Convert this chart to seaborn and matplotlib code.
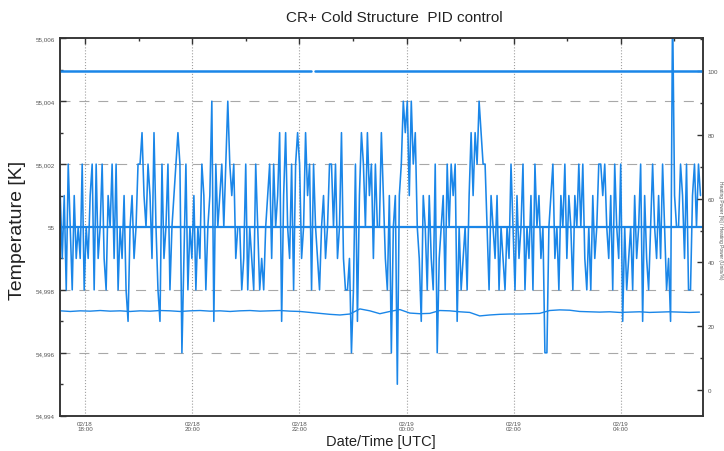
import numpy as np
import pandas as pd
import matplotlib
matplotlib.use("Agg")
import matplotlib.pyplot as plt
import matplotlib.dates as mdates
from matplotlib.ticker import MultipleLocator, FuncFormatter
import seaborn as sns

# temperature readings, offset from 55 K in mK (1 mK resolution), one sample every 134 s
temp_mk_a = [1, -1, 1, -2, 2, 0, -2, 1, -1, 0,
             -1, 2, -2, 0, -1, 1, 2, -2, 2, -1,
             0, 2, -1, -2, 1, 0, 2, -1, 2, -2,
             0, -1, 1, -2, -3, 0, 1, -1, 0, 2,
             2, 3, 1, 0, 2, 1, -1, 3, 0, -2,
             -3, 2, -1, 0, 2, -2, 0, 1, 2, 3,
             2, -4, -1, 2, -2, 0, -1, 1, -2, 0,
             -1, 2, 1, -2, 0, 1, 4, -3, 2, 0]
temp_mk_b = [1, 2, 0, 2, 4, 2, 1, 2, -1, 0,
             0, -2, -1, 2, -2, 0, -1, -2, 2, 0,
             -2, -1, -2, 0, 1, 2, -1, 2, 0, 1,
             3, -3, 1, 3, 0, -1, 2, -2, 2, 3,
             2, -1, 0, 3, 1, 2, -2, 2, 0, -1,
             -2, 0, 1, -1, 0, 2, 2, 0, 2, -1,
             0, 3, -1, -2, -2, -1, -4, -2, 2, -3,
             1, 3, 2, 0, 3, 1, 2, -1, 2, 0]
temp_mk_c = [0, 3, 1, -1, -2, 1, -4, 0, 1, -5,
             1, 2, 4, 3, 4, 1, 4, 2, 3, 0,
             -1, -3, 1, 0, -2, 1, -1, -2, 2, -4,
             -1, 0, 1, -2, 2, 0, 2, 1, 2, -3,
             0, -2, -1, 0, -2, 1, 3, 1, 3, 2,
             4, 3, 2, 2, 0, -2, 1, 0, -1, 1,
             -2, 0, -1, -2, 0, -1, 2, 0, -2, 1,
             -1, 0, 2, -2, 0, -1, 1, -2, 2, 0]
temp_mk_d = [1, -1, 0, -4, -4, 0, 1, 2, -1, 0,
             -2, 1, 0, 2, -1, 1, 0, -2, 1, 0,
             2, 0, 2, -1, -2, 0, -2, 1, -1, 0,
             2, 2, 1, 2, 0, -1, 1, -2, 2, 0,
             -1, 2, -3, 0, -2, -1, 0, -2, 1, -1,
             0, 2, -3, 1, -1, -2, 0, 2, 0, -1,
             1, -1, 2, 0, -2, -1, -3, 7, 1, 0,
             0, 2, 1, -1, 2, -2, -2, 1, 2, 0,
             2, 1]

# heating power [%], one sample every 671 s
power_pct = [24.8, 24.6, 24.8, 24.7, 24.9, 24.7, 24.8, 24.6, 24.8, 24.7,
             24.9, 24.8, 24.6, 24.8, 24.9, 24.7, 24.8, 24.6, 24.8, 24.9,
             24.7, 24.8, 24.9, 24.7, 24.6, 24.3, 24.0, 23.7, 23.5, 23.8,
             25.4, 24.8, 23.9, 24.6, 25.2, 24.1, 23.9, 24.0, 24.9, 24.8,
             24.5, 24.3, 23.2, 23.5, 23.7, 23.8, 23.8, 23.9, 24.0, 24.9,
             25.1, 25.0, 24.6, 24.5, 24.4, 24.5, 24.3, 24.4, 24.5, 24.3,
             24.4, 24.5, 24.4, 24.3, 24.4]

# power limit (with a short data gap) and temperature setpoint
limit_times = ["2023-02-18 17:32", "2023-02-18 22:13", "2023-02-18 22:17", "2023-02-19 05:32"]
limit_vals = [100, 100, 100, 100]
limit_seg = [0, 0, 1, 1]
setpoint_times = ["2023-02-18 17:32", "2023-02-19 05:32"]
setpoint_vals = [55.0, 55.0]

start = pd.Timestamp("2023-02-18 17:32:17")
temp_mk = temp_mk_a + temp_mk_b + temp_mk_c + temp_mk_d
temp = pd.DataFrame({
    "time": pd.date_range(start, periods=len(temp_mk), freq="134s"),
    "T": 55.0 + np.array(temp_mk) / 1000.0,
})
power = pd.DataFrame({
    "time": pd.date_range(start, periods=len(power_pct), freq="671s"),
    "P": power_pct,
})
limit = pd.DataFrame({"time": pd.to_datetime(limit_times), "P": limit_vals, "seg": limit_seg})
setp = pd.DataFrame({"time": pd.to_datetime(setpoint_times), "T": setpoint_vals})

sns.set_style("white")
plt.rcParams["font.family"] = ["Liberation Sans", "DejaVu Sans"]

blue = "#1a86e8"
grey = "#555555"

fig = plt.figure(figsize=(7.24, 4.52), dpi=100)
ax = fig.add_axes([60 / 724, 1 - 416.7 / 452, 643 / 724, 377.4 / 452])
ax2 = ax.twinx()

sns.lineplot(data=temp, x="time", y="T", ax=ax, color=blue, lw=1.15, estimator=None)
sns.lineplot(data=setp, x="time", y="T", ax=ax, color=blue, lw=1.6, estimator=None)
sns.lineplot(data=power, x="time", y="P", ax=ax2, color=blue, lw=1.0, estimator=None)
sns.lineplot(data=limit, x="time", y="P", units="seg", ax=ax2, color=blue, lw=1.8, estimator=None)

ax.set_xlim(pd.Timestamp("2023-02-18 17:32"), pd.Timestamp("2023-02-19 05:32"))
ax.set_ylim(54.994, 55.006)
ax2.set_ylim(-8.1, 110.3)

ax.yaxis.set_major_locator(MultipleLocator(0.002))
ax.yaxis.set_minor_locator(MultipleLocator(0.001))
ax.yaxis.set_major_formatter(FuncFormatter(
    lambda v, p: f"{v:.3f}".rstrip("0").rstrip(".").replace(".", ",")))
ax2.yaxis.set_major_locator(MultipleLocator(20))
ax2.yaxis.set_minor_locator(MultipleLocator(10))
ax.xaxis.set_major_locator(mdates.HourLocator(byhour=range(0, 24, 2)))
ax.xaxis.set_minor_locator(mdates.HourLocator())
ax.xaxis.set_major_formatter(mdates.DateFormatter("%m/%d\n%H:%M"))

ax.grid(False)
ax2.grid(False)
for v in ax.get_yticks():
    if 54.994 < v < 55.006:
        ax.axhline(v, color="#a8a8a8", lw=0.8, ls=(0, (9, 8)), zorder=0)
ax.xaxis.grid(True, which="major", color="#a0a0a0", lw=0.8, ls=":")

ax.tick_params(axis="both", which="both", direction="in", colors="#333333",
               labelcolor=grey, labelsize=4.5, top=True)
ax.tick_params(which="major", length=4, width=1)
ax.tick_params(which="minor", length=2.5, width=1)
ax2.tick_params(axis="y", which="both", direction="in", colors="#333333",
                labelcolor=grey, labelsize=4.5)
ax2.tick_params(which="major", length=4, width=1)
ax2.tick_params(which="minor", length=2.5, width=1)
for a in (ax, ax2):
    for s in a.spines.values():
        s.set_color("#333333")
        s.set_linewidth(1.1)

ax.set_xlabel("")
ax.set_ylabel("")
ax2.set_ylabel("")

fig.text(394 / 724, 1 - 18 / 452, "CR+ Cold Structure  PID control", ha="center", va="center",
         fontsize=11, color="#222222")
fig.text(18 / 724, 1 - 230 / 452, "Temperature [K]", rotation=90, ha="center", va="center",
         fontsize=14, color="#222222")
fig.text(381 / 724, 1 - 442 / 452, "Date/Time [UTC]", ha="center", va="center",
         fontsize=10.5, color="#222222")
fig.text(720 / 724, 1 - 230 / 452, "Heating Power [%] / Heating Power (Units/%)", rotation=270,
         ha="center", va="center", fontsize=3.5, color=grey)

fig.savefig("out.png", dpi=100)
